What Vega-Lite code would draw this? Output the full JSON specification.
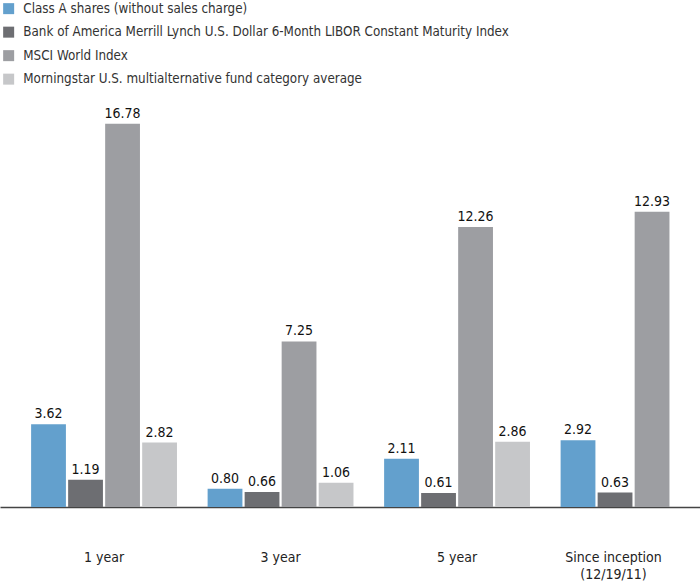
{
  "$schema": "https://vega.github.io/schema/vega-lite/v6.json",
  "width": 700,
  "height": 411,
  "autosize": {"type": "none"},
  "padding": {"top": 96, "left": 0, "right": 0, "bottom": 78},
  "background": "white",
  "config": {"view": {"stroke": null}, "font": "DejaVu Sans Condensed, Roboto, sans-serif"},
  "data": {"values": [
    {"period": "1 year", "series": "Class A shares (without sales charge)", "value": 3.62},
    {"period": "1 year", "series": "Bank of America Merrill Lynch U.S. Dollar 6-Month LIBOR Constant Maturity Index", "value": 1.19},
    {"period": "1 year", "series": "MSCI World Index", "value": 16.78},
    {"period": "1 year", "series": "Morningstar U.S. multialternative fund category average", "value": 2.82},
    {"period": "3 year", "series": "Class A shares (without sales charge)", "value": 0.80},
    {"period": "3 year", "series": "Bank of America Merrill Lynch U.S. Dollar 6-Month LIBOR Constant Maturity Index", "value": 0.66},
    {"period": "3 year", "series": "MSCI World Index", "value": 7.25},
    {"period": "3 year", "series": "Morningstar U.S. multialternative fund category average", "value": 1.06},
    {"period": "5 year", "series": "Class A shares (without sales charge)", "value": 2.11},
    {"period": "5 year", "series": "Bank of America Merrill Lynch U.S. Dollar 6-Month LIBOR Constant Maturity Index", "value": 0.61},
    {"period": "5 year", "series": "MSCI World Index", "value": 12.26},
    {"period": "5 year", "series": "Morningstar U.S. multialternative fund category average", "value": 2.86},
    {"period": "Since inception|(12/19/11)", "series": "Class A shares (without sales charge)", "value": 2.92},
    {"period": "Since inception|(12/19/11)", "series": "Bank of America Merrill Lynch U.S. Dollar 6-Month LIBOR Constant Maturity Index", "value": 0.63},
    {"period": "Since inception|(12/19/11)", "series": "MSCI World Index", "value": 12.93}
  ]},
  "encoding": {
    "x": {
      "field": "period", "type": "nominal", "sort": null,
      "scale": {"range": [0, 737.6], "paddingInner": 0.161, "paddingOuter": 0.17},
      "axis": {
        "title": null, "ticks": false, "labelAngle": 0,
        "domainColor": "#444444", "domainWidth": 1.5,
        "labelFont": "DejaVu Sans Condensed, Roboto, sans-serif", "labelFontSize": 14, "labelColor": "#222222",
        "labelPadding": 43, "labelBaseline": "top", "labelLineHeight": 17,
        "labelExpr": "split(datum.label, '|')",
        "labelOffset": {"condition": {"test": "indexof(datum.value, 'Since') == 0", "value": -20}, "value": 0}
      }
    },
    "xOffset": {
      "field": "series", "type": "nominal", "sort": null,
      "scale": {"paddingInner": 0.06, "paddingOuter": 0.03}
    },
    "y": {
      "field": "value", "type": "quantitative",
      "scale": {"domain": [0, 18], "nice": false},
      "axis": null
    }
  },
  "layer": [
    {
      "mark": {"type": "bar"},
      "encoding": {
        "color": {
          "field": "series", "type": "nominal", "sort": null,
          "scale": {
            "domain": ["Class A shares (without sales charge)", "Bank of America Merrill Lynch U.S. Dollar 6-Month LIBOR Constant Maturity Index", "MSCI World Index", "Morningstar U.S. multialternative fund category average"],
            "range": ["#63a0cd", "#6d6e72", "#9d9ea2", "#c6c7c9"]
          },
          "legend": {
            "title": null, "orient": "none", "legendX": 2, "legendY": -94,
            "symbolType": "square", "symbolSize": 121, "symbolStrokeWidth": 0,
            "labelFont": "DejaVu Sans Condensed, Roboto, sans-serif", "labelFontSize": 13.3, "labelColor": "#333333",
            "labelOffset": 8, "rowPadding": 9.5, "labelLimit": 700
          }
        }
      }
    },
    {
      "mark": {"type": "text", "baseline": "bottom", "dy": -3, "fontSize": 14, "color": "#111111", "font": "DejaVu Sans Condensed, Roboto, sans-serif"},
      "encoding": {
        "text": {"field": "value", "type": "quantitative", "format": ".2f"}
      }
    }
  ]
}
